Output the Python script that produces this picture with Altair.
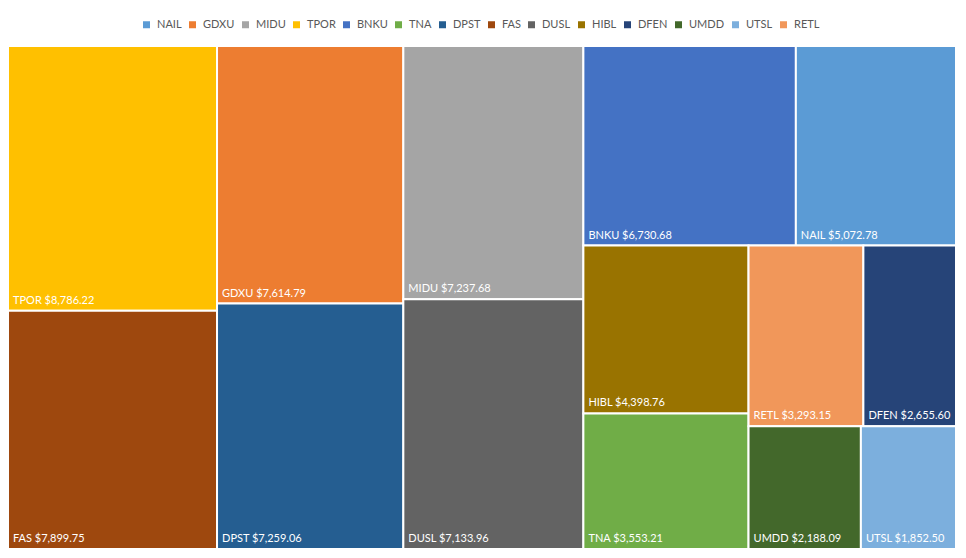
import altair as alt
import pandas as pd

tickers = ["NAIL", "GDXU", "MIDU", "TPOR", "BNKU", "TNA", "DPST", "FAS",
           "DUSL", "HIBL", "DFEN", "UMDD", "UTSL", "RETL"]
values = [5072.78, 7614.79, 7237.68, 8786.22, 6730.68, 3553.21, 7259.06, 7899.75,
          7133.96, 4398.76, 2655.60, 2188.09, 1852.50, 3293.15]
colors = ["#5B9BD5", "#ED7D31", "#A5A5A5", "#FFC000", "#4472C4", "#70AD47", "#255E91",
          "#9E480E", "#636363", "#997300", "#264478", "#43682B", "#7CAFDD", "#F1975A"]

W, H = 948.0, 503.0
FONT = "Lato"


def worst(row, w):
    s = sum(row)
    return max(max(w * w * r / (s * s), (s * s) / (w * w * r)) for r in row)


def squarify(items, x, y, dx, dy):
    # items: list of (name, area) sorted descending
    out = []
    items = list(items)
    while items:
        w = min(dx, dy)
        row = [items[0]]
        i = 1
        while i < len(items):
            cand = row + [items[i]]
            if worst([a for _, a in cand], w) <= worst([a for _, a in row], w):
                row = cand
                i += 1
            else:
                break
        items = items[len(row):]
        s = sum(a for _, a in row)
        if dx >= dy:
            cw = s / dy
            cy = y
            for n, a in row:
                h = a / cw
                out.append((n, x, x + cw, cy, cy + h))
                cy += h
            x += cw
            dx -= cw
        else:
            rh = s / dx
            cx = x
            for n, a in row:
                ww = a / rh
                out.append((n, cx, cx + ww, y, y + rh))
                cx += ww
            y += rh
            dy -= rh
    return out


total = sum(values)
order = sorted(zip(tickers, values), key=lambda t: -t[1])
areas = [(n, v / total * W * H) for n, v in order]
rects = squarify(areas, 0.0, 0.0, W, H)
vmap = dict(zip(tickers, values))

df = pd.DataFrame(rects, columns=["ticker", "x0", "x1", "y0", "y1"])
df["value"] = df["ticker"].map(vmap)
df["label"] = df.apply(lambda r: f"{r['ticker']} ${r['value']:,.2f}", axis=1)

xs = alt.Scale(domain=[0, W], nice=False, zero=False)
ys = alt.Scale(domain=[0, H], nice=False, zero=False, reverse=True)

base = alt.Chart(df)

boxes = base.mark_rect(stroke="white", strokeWidth=2).encode(
    x=alt.X("x0:Q", scale=xs, axis=None),
    x2="x1:Q",
    y=alt.Y("y0:Q", scale=ys, axis=None),
    y2="y1:Q",
    color=alt.Color(
        "ticker:N",
        scale=alt.Scale(domain=tickers, range=colors),
        legend=alt.Legend(
            title=None,
            orient="none",
            legendX=133,
            legendY=-27,
            direction="horizontal",
            columns=14,
            symbolType="square",
            symbolSize=49,
            symbolStrokeWidth=0,
            labelFont=FONT,
            labelFontSize=11,
            labelColor="#595959",
            labelOffset=5,
            columnPadding=5,
        ),
    ),
)

labels = base.mark_text(
    align="left", baseline="alphabetic", dx=5, dy=-7,
    color="white", font=FONT, fontSize=11,
).encode(
    x=alt.X("x0:Q", scale=xs, axis=None),
    y=alt.Y("y1:Q", scale=ys, axis=None),
    text="label:N",
)

chart = (boxes + labels).properties(
    width=W, height=H,
    padding={"left": 0, "top": 38, "right": 2, "bottom": 2},
    autosize="none",
).configure_view(stroke=None)

chart.save("out.html", embed_options={"renderer": "svg", "actions": False})
